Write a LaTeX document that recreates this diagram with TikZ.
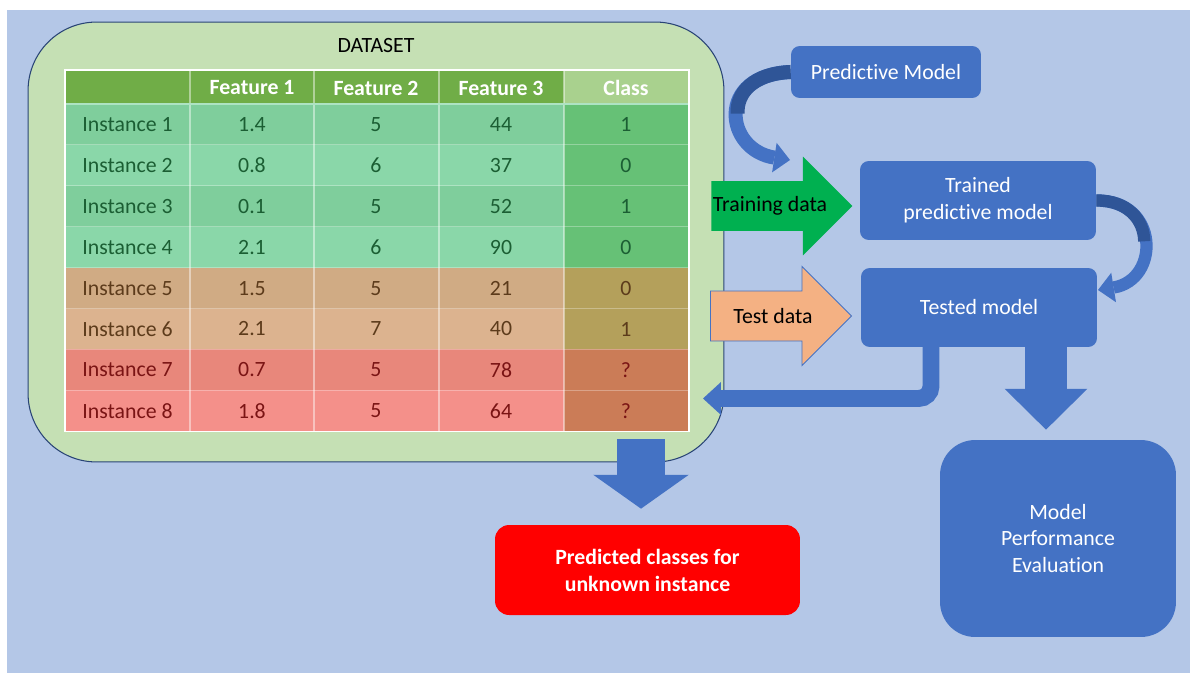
\documentclass[tikz,border=0pt]{standalone}
\usepackage{fontspec}
\setmainfont{Carlito}[Ligatures={TeX,NoCommon}]
\usetikzlibrary{positioning,shapes.arrows,arrows.meta}

\definecolor{bgblue}{HTML}{B4C7E7}
\definecolor{dsgreen}{HTML}{C5E0B4}
\definecolor{boxblue}{HTML}{4472C4}
\definecolor{darkblue}{HTML}{2F5597}
\definecolor{hdrgreen}{HTML}{70AD47}
\definecolor{clshdr}{HTML}{A9D18E}
\definecolor{rowA}{HTML}{7FCE9C}
\definecolor{rowB}{HTML}{8AD7A9}
\definecolor{clsA}{HTML}{66C176}
\definecolor{rowC}{HTML}{D0AB84}
\definecolor{rowD}{HTML}{DCB38F}
\definecolor{clsB}{HTML}{B4A05B}
\definecolor{rowE}{HTML}{E8877B}
\definecolor{rowF}{HTML}{F4908A}
\definecolor{clsC}{HTML}{CB7C57}
\definecolor{txA}{HTML}{1B5E33}
\definecolor{txB}{HTML}{5C3B1B}
\definecolor{txC}{HTML}{7A1414}
\definecolor{traingreen}{HTML}{00B050}
\definecolor{testorange}{HTML}{F4B183}
\definecolor{predred}{HTML}{FF0000}

\newcommand{\basefont}{\fontsize{12.4}{15.3}\selectfont}

\tikzset{
  box/.style={fill=boxblue, rounded corners=5pt, text=white, align=center, inner sep=2pt},
  cell/.style={inner sep=0pt, anchor=center},
  hdr/.style={text=white, font=\basefont\bfseries},
  dataarrow/.style={single arrow, single arrow head extend=13.9pt, minimum height=2.82cm,
    inner ysep=14pt, inner xsep=0pt},
  curvearrow/.style={boxblue, line width=#1, -{Triangle[width=17pt,length=9pt,line width=0pt]}},
}

\begin{document}
\begin{tikzpicture}[x=0.02cm, y=-0.02cm, font=\basefont]
  \useasboundingbox (0,0) rectangle (1190,673);
  \fill[bgblue] (7,10) rectangle (1190,673);

  % Dataset frame
  \node[draw=boxblue!60!black, line width=0.6pt, fill=dsgreen, rounded corners=39pt,
        minimum width=13.92cm, minimum height=8.8cm, inner sep=0pt] (ds) at (376,242) {};
  \node (dstitle) at (376,46) {DATASET};

  % Table header
  \fill[hdrgreen] (65,70) rectangle (564,104);
  \fill[clshdr] (564,70) rectangle (689,104);
  \node[cell,hdr] (f1) at (252,88) {Feature 1};
  \node[cell,hdr] (f2) at (376,88) {Feature 2};
  \node[cell,hdr] (f3) at (501,88) {Feature 3};
  \node[cell,hdr] (cls) at (626,88) {Class};

  % Table rows
  \foreach \i/\fa/\fb/\fc/\cl/\rc/\cc/\tc in {1/1.4/5/44/1/rowA/clsA/txA, 2/0.8/6/37/0/rowB/clsA/txA,
      3/0.1/5/52/1/rowA/clsA/txA, 4/2.1/6/90/0/rowB/clsA/txA, 5/1.5/5/21/0/rowC/clsB/txB,
      6/2.1/7/40/1/rowD/clsB/txB, 7/0.7/5/78/?/rowE/clsC/txC, 8/1.8/5/64/?/rowF/clsC/txC}{
    \pgfmathsetmacro\yt{104+(\i-1)*40.9}
    \fill[\rc] (65,\yt) rectangle (564,{\yt+40.9});
    \fill[\cc] (564,\yt) rectangle (689,{\yt+40.9});
    \node[cell,text=\tc] (inst\i) at (127.5,{\yt+20.5}) {Instance \i};
    \node[cell,text=\tc] (a\i) at (252,{\yt+20.5}) {\fa};
    \node[cell,text=\tc] (b\i) at (376,{\yt+20.5}) {\fb};
    \node[cell,text=\tc] (c\i) at (501,{\yt+20.5}) {\fc};
    \node[cell,text=\tc] (k\i) at (626,{\yt+20.5}) {\cl};
  }

  % Grid lines
  \foreach \x in {190,314,439,564}
    \draw[white, opacity=0.45, line width=0.6pt] (\x,70) -- (\x,431.2);
  \foreach \j in {1,...,7}
    \draw[white, opacity=0.3, line width=0.6pt] (65,{104+\j*40.9}) -- (689,{104+\j*40.9});
  \draw[rowB!70!white, line width=1.4pt] (65,104) -- (689,104);
  \draw[white, line width=0.8pt] (65,70) rectangle (689,431.2);

  % Model boxes
  \node[box, minimum width=3.8cm, minimum height=1.04cm] (pm) at (886,72) {Predictive Model};
  \node[box, minimum width=4.72cm, minimum height=1.58cm] (trained) at (978,200.5) {Trained\\predictive model};
  \node[box, minimum width=4.72cm, minimum height=1.58cm] (tested) at (979,307.5) {Tested model};
  \node[box, rounded corners=20pt, minimum width=4.72cm, minimum height=3.94cm] (eval) at (1058,538.5)
    {Model\\Performance\\Evaluation};
  \node[box, fill=predred, rounded corners=8pt, font=\basefont\bfseries, minimum width=6.1cm,
        minimum height=1.8cm] (pred) at (647.5,570) {Predicted classes for\\unknown instance};

  % Data arrows
  \node[dataarrow, fill=traingreen, anchor=tail] (train) at (711,206) {};
  \node (trainlbl) at (770,206) {Training data};
  \node[dataarrow, fill=testorange, draw=boxblue, line width=0.5pt, anchor=tail] (test) at (710,316) {};
  \node (testlbl) at (773,316) {Test data};

  % Curved arrows
  \draw[curvearrow=8pt] (pm.west) .. controls (715,75) and (725,150) .. (790,160);
  \draw[darkblue, line width=8pt] (pm.west) .. controls (753,73.5) and (736.5,93) .. (737.6,113.5);
  \draw[curvearrow=7pt] (trained.east) .. controls (1160,200) and (1160,280) .. (1098,290);
  \draw[darkblue, line width=7pt] (trained.east) .. controls (1128,200.25) and (1144,220.1) .. (1144.25,241.3);

  % Block arrows
  \coordinate (dsout) at (641,439);
  \draw[boxblue, line width=27.2pt, -{Triangle[width=54.4pt,length=19.3pt,line width=0pt]},
        shorten >=9.1pt] (dsout) -- (dsout |- pred.north);
  \coordinate (tmdown) at (1046,347);
  \draw[boxblue, line width=23.8pt, -{Triangle[width=47pt,length=23.2pt,line width=0pt]},
        shorten >=5.7pt] (tmdown) -- (tmdown |- eval.north);
  \coordinate (tmleft) at (931,347);
  \coordinate (dsin) at (703,398.5);
  \draw[boxblue, line width=9.6pt, rounded corners=7pt,
        -{Triangle[width=18.7pt,length=10.2pt,line width=0pt]}] (tmleft) |- (dsin);
\end{tikzpicture}
\end{document}
